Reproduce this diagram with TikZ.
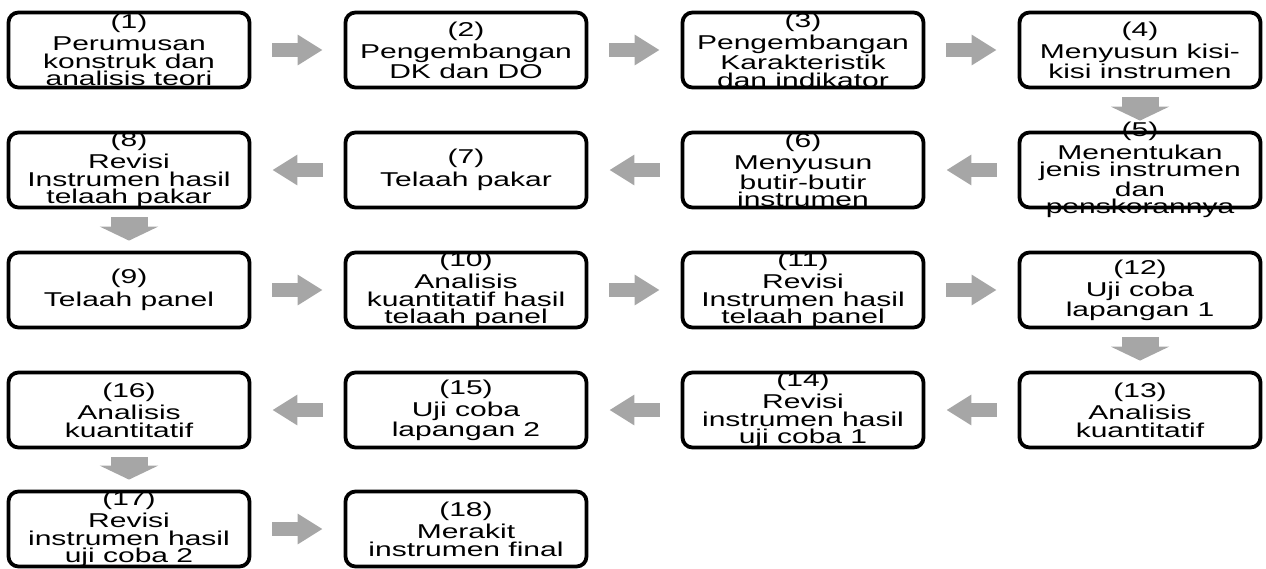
\documentclass[tikz,border=0pt]{standalone}
\usepackage{fontspec}
\setmainfont{Liberation Sans}[FakeStretch=1.5]
\usetikzlibrary{arrows.meta}
\definecolor{panahabu}{HTML}{A6A6A6}

\begin{document}
\begin{tikzpicture}[x=1pt,y=-1pt,
  kotak/.style={draw,line width=3.8pt,rounded corners=10pt,minimum width=241pt,minimum height=75pt,inner sep=0pt},
  isi/.style={align=center,font=\fontsize{20}{17.5}\selectfont,inner sep=0pt},
  panah/.style={draw=panahabu,line width=14pt,-{Triangle[width=29pt,length=25pt]}},
  panahbawah/.style={draw=panahabu,line width=37pt,-{Triangle[width=58pt,length=14pt]}}]
\useasboundingbox (0,0) rectangle (1266,568);

\node[kotak] (t1) at (129,50) {};
\node[kotak] (t2) at (466,50) {};
\node[kotak] (t3) at (803,50) {};
\node[kotak] (t4) at (1140,50) {};
\node[kotak] (t8) at (129,170) {};
\node[kotak] (t7) at (466,170) {};
\node[kotak] (t6) at (803,170) {};
\node[kotak] (t5) at (1140,170) {};
\node[kotak] (t9) at (129,290) {};
\node[kotak] (t10) at (466,290) {};
\node[kotak] (t11) at (803,290) {};
\node[kotak] (t12) at (1140,290) {};
\node[kotak] (t16) at (129,410) {};
\node[kotak] (t15) at (466,410) {};
\node[kotak] (t14) at (803,410) {};
\node[kotak] (t13) at (1140,410) {};
\node[kotak] (t17) at (129,529) {};
\node[kotak] (t18) at (466,529) {};

\node[isi] at (t1) {(1)\\[3pt]Perumusan\\konstruk dan\\analisis teori};
\node[isi] at (t2) {(2)\\[3pt]Pengembangan\\DK dan DO};
\node[isi] at (t3) {(3)\\[3pt]Pengembangan\\Karakteristik\\dan indikator};
\node[isi] at (t4) {(4)\\[3pt]Menyusun kisi-\\kisi instrumen};
\node[isi] at (t5) {(5)\\[3pt]Menentukan\\jenis instrumen\\dan\\penskorannya};
\node[isi] at (t6) {(6)\\[3pt]Menyusun\\butir-butir\\instrumen};
\node[isi] at (t7) {(7)\\[3pt]Telaah pakar};
\node[isi] at (t8) {(8)\\[3pt]Revisi\\Instrumen hasil\\telaah pakar};
\node[isi] at (t9) {(9)\\[3pt]Telaah panel};
\node[isi] at (t10) {(10)\\[3pt]Analisis\\kuantitatif hasil\\telaah panel};
\node[isi] at (t11) {(11)\\[3pt]Revisi\\Instrumen hasil\\telaah panel};
\node[isi] at (t12) {(12)\\[3pt]Uji coba\\lapangan 1};
\node[isi] at (t13) {(13)\\[3pt]Analisis\\kuantitatif};
\node[isi] at (t14) {(14)\\[3pt]Revisi\\instrumen hasil\\uji coba 1};
\node[isi] at (t15) {(15)\\[3pt]Uji coba\\lapangan 2};
\node[isi] at (t16) {(16)\\[3pt]Analisis\\kuantitatif};
\node[isi] at (t17) {(17)\\[3pt]Revisi\\instrumen hasil\\uji coba 2};
\node[isi] at (t18) {(18)\\[3pt]Merakit\\instrumen final};

\draw[panah] ([xshift=21pt]t1.east) -- ([xshift=-21pt]t2.west);
\draw[panah] ([xshift=21pt]t2.east) -- ([xshift=-21pt]t3.west);
\draw[panah] ([xshift=21pt]t3.east) -- ([xshift=-21pt]t4.west);
\draw[panahbawah] ([yshift=-8pt]t4.south) -- ([yshift=10pt]t5.north);
\draw[panah] ([xshift=-21pt]t5.west) -- ([xshift=21pt]t6.east);
\draw[panah] ([xshift=-21pt]t6.west) -- ([xshift=21pt]t7.east);
\draw[panah] ([xshift=-21pt]t7.west) -- ([xshift=21pt]t8.east);
\draw[panahbawah] ([yshift=-8pt]t8.south) -- ([yshift=10pt]t9.north);
\draw[panah] ([xshift=21pt]t9.east) -- ([xshift=-21pt]t10.west);
\draw[panah] ([xshift=21pt]t10.east) -- ([xshift=-21pt]t11.west);
\draw[panah] ([xshift=21pt]t11.east) -- ([xshift=-21pt]t12.west);
\draw[panahbawah] ([yshift=-8pt]t12.south) -- ([yshift=10pt]t13.north);
\draw[panah] ([xshift=-21pt]t13.west) -- ([xshift=21pt]t14.east);
\draw[panah] ([xshift=-21pt]t14.west) -- ([xshift=21pt]t15.east);
\draw[panah] ([xshift=-21pt]t15.west) -- ([xshift=21pt]t16.east);
\draw[panahbawah] ([yshift=-8pt]t16.south) -- ([yshift=10pt]t17.north);
\draw[panah] ([xshift=21pt]t17.east) -- ([xshift=-21pt]t18.west);
\end{tikzpicture}
\end{document}
